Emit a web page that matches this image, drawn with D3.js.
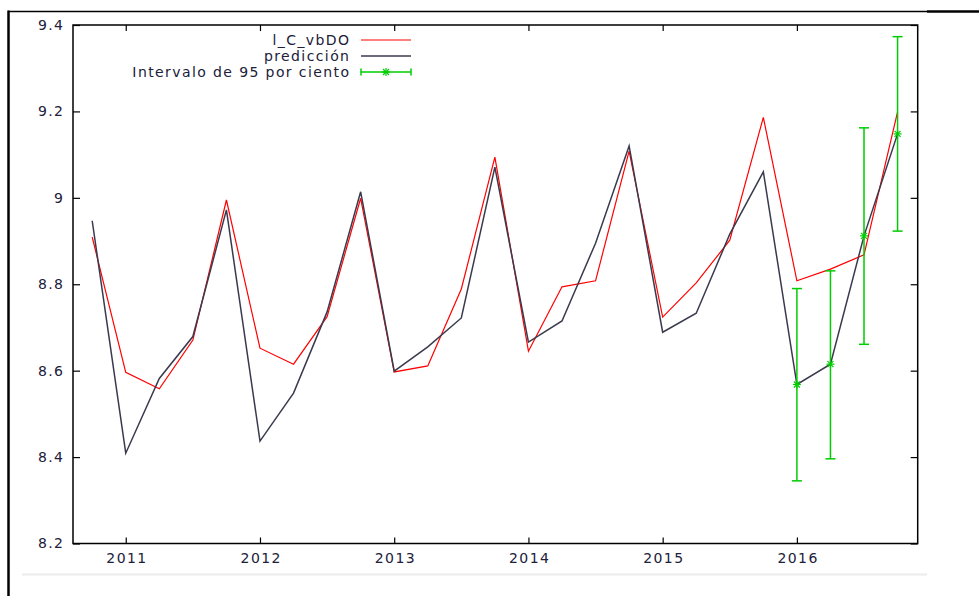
<!DOCTYPE html>
<html><head><meta charset="utf-8">
<script src="https://cdn.jsdelivr.net/npm/d3@7"></script>
<style>body{margin:0;background:#fff}svg{display:block}text{font-family:"DejaVu Sans",Verdana,sans-serif;font-size:14px;letter-spacing:1.4px;fill:#20203a}</style>
</head><body>
<script>
const periods = [2010.75,2011,2011.25,2011.5,2011.75,2012,2012.25,2012.5,2012.75,2013,2013.25,2013.5,2013.75,2014,2014.25,2014.5,2014.75,2015,2015.25,2015.5,2015.75,2016,2016.25,2016.5,2016.75];
const actual = [8.909,8.596,8.558,8.671,8.995,8.652,8.615,8.725,8.999,8.597,8.611,8.789,9.094,8.645,8.794,8.808,9.108,8.724,8.803,8.902,9.186,8.808,8.835,8.868,9.199];
const predicted = [8.947,8.409,8.582,8.679,8.972,8.437,8.548,8.736,9.014,8.599,8.655,8.722,9.071,8.666,8.715,8.895,9.12,8.689,8.733,8.916,9.06,8.568,8.615,8.912,9.148];
const fcPeriods = [2016,2016.25,2016.5,2016.75];
const fcLow = [8.345,8.396,8.661,8.923];
const fcHigh = [8.79,8.831,9.162,9.373];
const fcMid = [8.568,8.615,8.912,9.148];
const yTicks = [8.2,8.4,8.6,8.8,9,9.2,9.4];
const xTicks = [2011,2012,2013,2014,2015,2016];
const legendLabels = ["l_C_vbDO","predicción","Intervalo de 95 por ciento"];

const W=979,H=596;
const svg=d3.select("body").append("svg").attr("width",W).attr("height",H);
const L=73,R=917.7,T=25,B=543.5;
const x=d3.scaleLinear().domain([2010.607,2016.9]).range([L,R]);
const y=d3.scaleLinear().domain([8.2,9.4]).range([B,T]);

// outer page lines
svg.append("line").attr("x1",8).attr("x2",927).attr("y1",11.5).attr("y2",11.5).attr("stroke","#000").attr("stroke-width",1.5);
svg.append("line").attr("x1",927).attr("x2",979).attr("y1",11.5).attr("y2",11.5).attr("stroke","#000").attr("stroke-width",2.5);
svg.append("line").attr("x1",8.5).attr("x2",8.5).attr("y1",10.5).attr("y2",596).attr("stroke","#000").attr("stroke-width",2.5);
svg.append("line").attr("x1",22).attr("x2",927).attr("y1",574.5).attr("y2",574.5).attr("stroke","#ececec").attr("stroke-width",2);

const g=svg.append("g");
const axL=d3.axisLeft(y).tickValues(yTicks).tickSize(-7).tickPadding(10).tickFormat(d3.format("~g"));
const axR=d3.axisRight(y).tickValues(yTicks).tickSize(-7).tickFormat("");
const axB=d3.axisBottom(x).tickValues(xTicks).tickSize(-6).tickPadding(10).tickFormat(d3.format("d"));
const axT=d3.axisTop(x).tickValues(xTicks).tickSize(-6).tickFormat("");
function style(sel){sel.select(".domain").remove();sel.selectAll(".tick line").attr("stroke","#000").attr("stroke-width",1.2);sel.selectAll("text").attr("font-family","DejaVu Sans").attr("font-size",14).attr("fill","#20203a");}
g.append("g").attr("transform",`translate(${L+1.4},0)`).call(axL).call(style).selectAll(".tick line").attr("transform","translate(-1.4,0)");
g.append("g").attr("transform",`translate(${R},0)`).call(axR).call(style);
g.append("g").attr("transform",`translate(0,${B})`).call(axB).call(style).selectAll(".tick text").attr("dx","0.7");
g.append("g").attr("transform",`translate(0,${T})`).call(axT).call(style);

const line=d3.line().x(d=>x(d[0])).y(d=>y(d[1]));
g.append("path").datum(periods.map((p,i)=>[p,actual[i]])).attr("d",line).attr("fill","none").attr("stroke","#ff0000").attr("stroke-width",1.2);
g.append("path").datum(periods.map((p,i)=>[p,predicted[i]])).attr("d",line).attr("fill","none").attr("stroke","#3a3a4e").attr("stroke-width",1.5);

const green="#00cc00";
function star(sel,cx,cy,s){
  const p=sel.append("g").attr("stroke",green).attr("stroke-width",1.2);
  p.append("line").attr("x1",cx-s).attr("x2",cx+s).attr("y1",cy).attr("y2",cy);
  p.append("line").attr("x1",cx).attr("x2",cx).attr("y1",cy-s).attr("y2",cy+s);
  p.append("line").attr("x1",cx-s*0.75).attr("x2",cx+s*0.75).attr("y1",cy-s*0.75).attr("y2",cy+s*0.75);
  p.append("line").attr("x1",cx-s*0.75).attr("x2",cx+s*0.75).attr("y1",cy+s*0.75).attr("y2",cy-s*0.75);
}
fcPeriods.forEach((p,i)=>{
  const cx=x(p);
  g.append("line").attr("x1",cx).attr("x2",cx).attr("y1",y(fcLow[i])).attr("y2",y(fcHigh[i])).attr("stroke",green).attr("stroke-width",1.5);
  [fcLow[i],fcHigh[i]].forEach(v=>g.append("line").attr("x1",cx-5).attr("x2",cx+5).attr("y1",y(v)).attr("y2",y(v)).attr("stroke",green).attr("stroke-width",1.5));
  star(g,cx,y(fcMid[i]),4);
});

g.append("rect").attr("x",L).attr("y",T).attr("width",R-L).attr("height",B-T).attr("fill","none").attr("stroke","#000").attr("stroke-width",1.5);

// legend
const lg=svg.append("g");
const rows=[40,56,72];
legendLabels.forEach((t,i)=>{
  lg.append("text").attr("x",350.4).attr("y",rows[i]).attr("dy","0.35em").attr("text-anchor","end").text(t);
});
lg.append("line").attr("x1",361).attr("x2",411).attr("y1",rows[0]).attr("y2",rows[0]).attr("stroke","#ff0000").attr("stroke-width",1.2);
lg.append("line").attr("x1",361).attr("x2",411).attr("y1",rows[1]).attr("y2",rows[1]).attr("stroke","#3a3a4e").attr("stroke-width",1.5);
lg.append("line").attr("x1",361).attr("x2",411).attr("y1",rows[2]).attr("y2",rows[2]).attr("stroke",green).attr("stroke-width",1.5);
[361,411].forEach(xx=>lg.append("line").attr("x1",xx).attr("x2",xx).attr("y1",rows[2]-3.5).attr("y2",rows[2]+3.5).attr("stroke",green).attr("stroke-width",1.5));
star(lg,386,rows[2],4);
</script>
</body></html>
